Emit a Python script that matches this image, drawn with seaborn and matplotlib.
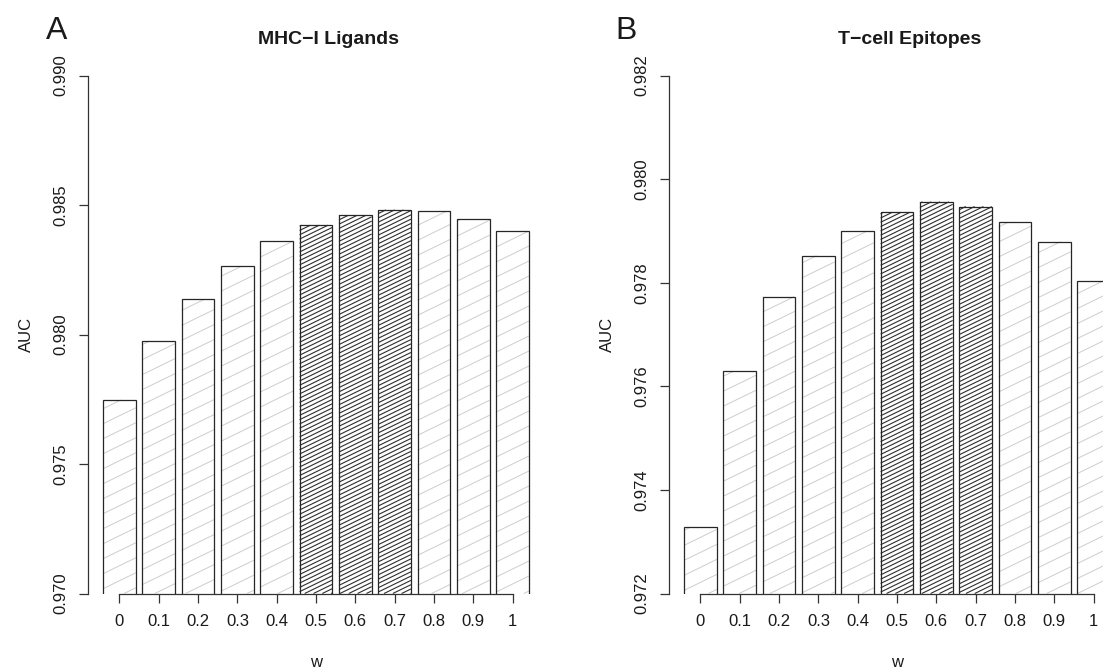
import numpy as np
import pandas as pd
import matplotlib
matplotlib.use("Agg")
import matplotlib.pyplot as plt
import seaborn as sns
from matplotlib.collections import LineCollection
from matplotlib.transforms import IdentityTransform

# ---------------- data ----------------
w_labels = ["0", "0.1", "0.2", "0.3", "0.4", "0.5", "0.6", "0.7", "0.8", "0.9", "1"]
auc_mhc = [0.97747, 0.97975, 0.98136, 0.98264, 0.98360, 0.98422,
           0.98460, 0.98481, 0.98476, 0.98445, 0.98398]
auc_tcell = [0.97328, 0.97629, 0.97773, 0.97852, 0.97899, 0.97936,
             0.97956, 0.97947, 0.97917, 0.97879, 0.97804]
highlight = ["0.5", "0.6", "0.7"]
yticks_mhc = [0.970, 0.975, 0.980, 0.985, 0.990]
yticks_tcell = [0.972, 0.974, 0.976, 0.978, 0.980, 0.982]
title_mhc = "MHC\u2212I Ligands"
title_tcell = "T\u2212cell Epitopes"

# ---------------- style ----------------
sns.set_style("white")
plt.rcParams["font.family"] = ["Liberation Sans", "DejaVu Sans"]
EDGE = "#262626"
AXC = "#333333"
TXT = "#1a1a1a"

W, H = 1103, 669
fig = plt.figure(figsize=(W / 100, H / 100), dpi=100)
fig.patch.set_facecolor("white")


def px_axes(left, top, width, height):
    return fig.add_axes([left / W, 1 - (top + height) / H, width / W, height / H])


axA = px_axes(88, 75.5, 456, 518)
axB = px_axes(669, 75.5, 456, 518)


def panel(ax, vals, yticks, title):
    df = pd.DataFrame({"w": w_labels, "AUC": vals})
    sns.barplot(data=df, x="w", y="AUC", order=w_labels, color="white",
                edgecolor=EDGE, linewidth=0.9, width=0.833, saturation=1,
                ax=ax, zorder=2)
    for p in ax.patches:
        p.set_facecolor("none")
    ax.set_xlim(-0.8, 10.8)
    ax.set_ylim(yticks[0], yticks[-1])
    sns.despine(ax=ax)
    ax.spines["left"].set_bounds(yticks[0], yticks[-1])
    ax.spines["bottom"].set_bounds(0, len(w_labels) - 1)
    for s in ("left", "bottom"):
        ax.spines[s].set_color(AXC)
        ax.spines[s].set_linewidth(0.9)
    ax.set_xticks(range(len(w_labels)), labels=w_labels)
    ax.set_yticks(yticks, labels=[f"{v:.3f}" for v in yticks])
    ax.tick_params(axis="both", direction="out", length=6.5, width=0.9,
                   color=AXC, labelsize=12, labelcolor=TXT)
    ax.tick_params(axis="x", pad=8, bottom=True)
    ax.tick_params(axis="y", pad=7.5, left=True)
    plt.setp(ax.get_yticklabels(), rotation=90, va="center")
    ax.set_xlabel("w", fontsize=12, color=TXT)
    ax.xaxis.set_label_coords(0.5, -73.5 / 518)
    ax.xaxis.label.set_va("baseline")
    ax.set_ylabel("AUC", fontsize=12, color=TXT)
    ax.yaxis.set_label_coords(-62 / 456, 0.5)
    ax.yaxis.label.set_va("center")
    ax.set_title(title, fontsize=14, fontweight="bold", color=TXT, x=0.528, pad=23)
    ax.grid(False)


panel(axA, auc_mhc, yticks_mhc, title_mhc)
panel(axB, auc_tcell, yticks_tcell, title_tcell)

fig.text(45.6 / W, 1 - 38.6 / H, "A", fontsize=23, ha="left", va="baseline", color=TXT)
fig.text(615 / W, 1 - 38.6 / H, "B", fontsize=23, ha="left", va="baseline", color=TXT)

# ---------------- hatching (R-style shading lines) ----------------
fig.canvas.draw()


def hatch(ax, patch, spacing_v, color, lw, angle=26.0):
    bb = patch.get_window_extent()
    axbb = ax.get_window_extent()
    x0 = max(bb.x0, axbb.x0)
    x1 = min(bb.x1, axbb.x1)
    y0 = max(bb.y0, axbb.y0)
    y1 = min(bb.y1, axbb.y1)
    if x1 <= x0 or y1 <= y0:
        return
    t = np.tan(np.radians(angle))
    cmin = y0 - t * x1
    cmax = y1 - t * x0
    segs = []
    for k in np.arange(np.floor(cmin / spacing_v), np.ceil(cmax / spacing_v) + 1):
        c = k * spacing_v
        xa = max(x0, (y0 - c) / t)
        xb = min(x1, (y1 - c) / t)
        if xb > xa:
            segs.append([(xa, t * xa + c), (xb, t * xb + c)])
    lc = LineCollection(segs, colors=color, linewidths=lw,
                        transform=IdentityTransform(), zorder=1)
    ax.add_collection(lc, autolim=False)


for ax in (axA, axB):
    for lab, p in zip(w_labels, ax.patches):
        if lab in highlight:
            hatch(ax, p, 4.3, "#2e2e2e", 0.8)
        else:
            hatch(ax, p, 15.0, "#cdcdcd", 0.7)

fig.savefig("out.png", dpi=100, facecolor="white")
